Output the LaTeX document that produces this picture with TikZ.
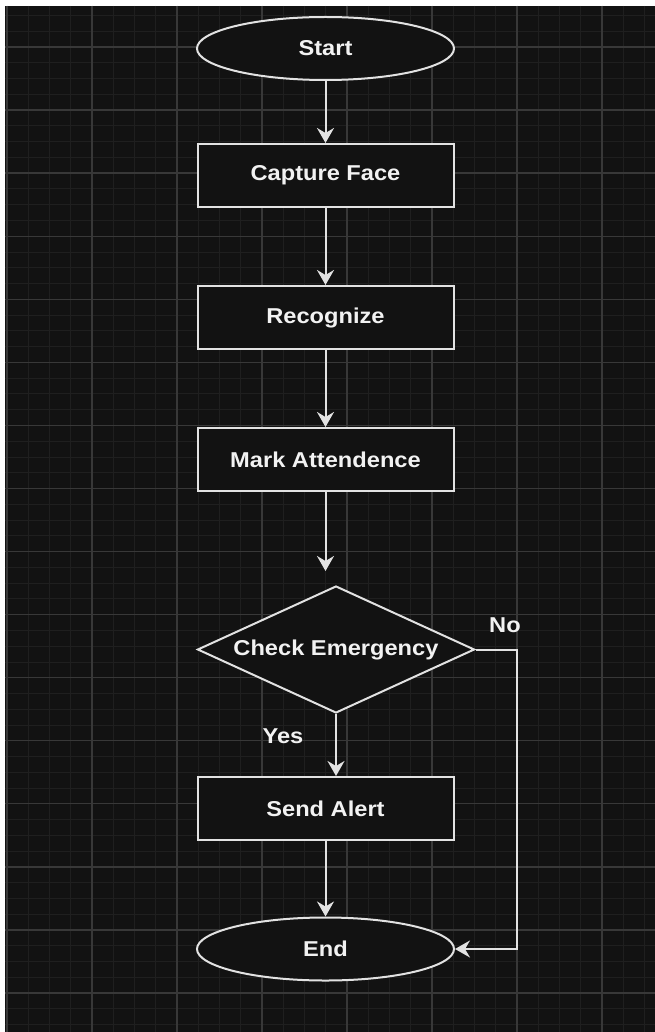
\documentclass[tikz,border=0pt]{standalone}
\usepackage{fontspec}
\setmainfont{Liberation Sans}[FakeStretch=1.1]
\usetikzlibrary{shapes.geometric, arrows.meta}
\definecolor{bgdark}{HTML}{121212}
\definecolor{gridminor}{HTML}{1F1F1F}
\definecolor{gridmajor}{HTML}{383838}
\definecolor{strokec}{HTML}{E2E2E2}
\definecolor{textc}{HTML}{F2F2F2}
\tikzset{
  base/.style={draw=strokec, line width=2pt, fill=bgdark, text=textc, inner sep=0pt,
    font=\fontsize{21.5}{24}\selectfont\bfseries},
  term/.style={base, ellipse, minimum width=257pt, minimum height=63pt},
  proc/.style={base, rectangle, minimum width=256pt, minimum height=63pt},
  decide/.style={base, diamond, aspect=2.18, minimum width=277pt, minimum height=127pt},
  lbl/.style={text=textc, inner sep=0pt, font=\fontsize{21.5}{24}\selectfont\bfseries},
  arr/.style={draw=strokec, line width=2pt, -{Stealth[length=15pt, width=17pt, inset=5pt]}},
}
\begin{document}
\begin{tikzpicture}[x=1pt, y=-1pt]
\useasboundingbox (0,0) rectangle (655,1032);
\fill[white] (0,0) rectangle (655,1032);
\fill[bgdark] (5,6) rectangle (655,1032);
\begin{scope}
\clip (5,6) rectangle (655,1032);
\foreach \i in {0,...,31} {
  \draw[gridminor, line width=1pt] ({7+21.25*\i},6) -- ({7+21.25*\i},1032);
}
\foreach \j in {0,...,66} {
  \draw[gridminor, line width=1pt] (5,{-0.3+15.77*\j}) -- (655,{-0.3+15.77*\j});
}
\foreach \i in {0,...,7} {
  \draw[gridmajor, line width=1.3pt] ({7+85*\i},6) -- ({7+85*\i},1032);
}
\foreach \j in {0,...,16} {
  \draw[gridmajor, line width=1.3pt] (5,{47+63.07*\j}) -- (655,{47+63.07*\j});
}
\end{scope}

\node[term] (start) at (325.5,48.5) {Start};
\node[proc] (cap) at (325.5,175.5) {Capture Face};
\node[proc] (rec) at (325.5,317.5) {Recognize};
\node[proc] (mark) at (325.5,459.5) {Mark Attendence};
\node[decide] (dia) at (336,649.5) {Check Emergency};
\node[proc] (send) at (325.5,808.5) {Send Alert};
\node[term] (endn) at (325.5,949) {End};

\node[lbl] (nolbl) at (505,625) {No};
\node[lbl] (yeslbl) at (283,736) {Yes};

\coordinate (diatop) at (325.5,571);
\coordinate (nocorner) at (517,649.5);

\draw[arr] (start) -- (cap);
\draw[arr] (cap) -- (rec);
\draw[arr] (rec) -- (mark);
\draw[arr] (mark) -- (diatop);
\draw[arr] (dia.south) -- (dia.south |- send.north);
\draw[arr] (send) -- (endn);
\draw[arr] (dia.east) -- (nocorner) |- (endn.east);
\end{tikzpicture}
\end{document}
